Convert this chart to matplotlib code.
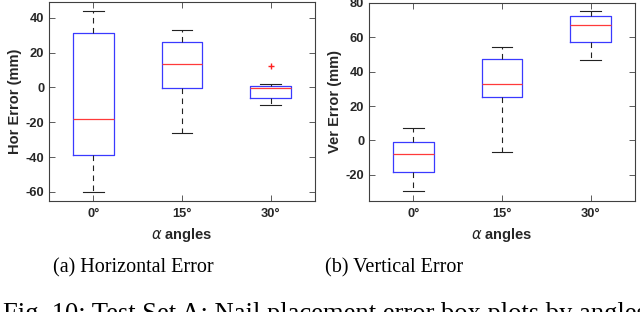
import matplotlib
matplotlib.use("Agg")
import matplotlib.pyplot as plt

plt.rcParams["axes.unicode_minus"] = False

categories = ["0°", "15°", "30°"]

# Horizontal error box stats
hor_whislo = [-60, -26, -10]
hor_q1 = [-39, -0.5, -6]
hor_med = [-18, 13.5, -0.5]
hor_q3 = [31, 26, 1]
hor_whishi = [44, 33, 2]
hor_fliers = [[], [], [12]]

# Vertical error box stats
ver_whislo = [-29.5, -7, 47]
ver_q1 = [-18.5, 25, 57]
ver_med = [-8, 33, 67]
ver_q3 = [-1, 47.5, 72]
ver_whishi = [7, 54, 75]
ver_fliers = [[], [], []]

hor_yticks = [-60, -40, -20, 0, 20, 40]
ver_yticks = [-20, 0, 20, 40, 60, 80]

W, H = 640, 312
fig = plt.figure(figsize=(6.4, 3.12), dpi=100)

axc = "#404040"
txtc = "#262626"

def make_stats(lo, q1, med, q3, hi, fl):
    return [dict(whislo=a, q1=b, med=c, q3=d, whishi=e, fliers=f)
            for a, b, c, d, e, f in zip(lo, q1, med, q3, hi, fl)]

def draw(rect, stats, ylim, yticks, ylabel):
    l, t, r, b = rect
    ax = fig.add_axes([l / W, 1 - b / H, (r - l) / W, (b - t) / H])
    ax.bxp(stats, positions=[1, 2, 3], widths=0.46, showfliers=True,
           boxprops=dict(color="#3a3aff", linewidth=0.9),
           medianprops=dict(color="#ff3a3a", linewidth=0.9),
           whiskerprops=dict(color="#222222", linewidth=0.8, linestyle=(0, (5, 4))),
           capprops=dict(color="#222222", linewidth=0.8),
           capwidths=0.23,
           flierprops=dict(marker="+", markeredgecolor="#ff2020", markersize=5,
                           markeredgewidth=1.0, linestyle="none"))
    ax.set_xlim(0.5, 3.5)
    ax.set_ylim(*ylim)
    ax.set_yticks(yticks)
    ax.set_xticks([1, 2, 3])
    ax.set_xticklabels(categories)
    for s in ax.spines.values():
        s.set_color(axc)
        s.set_linewidth(0.8)
    ax.tick_params(direction="in", top=True, right=True, length=4, width=0.6,
                   color=axc, labelsize=9.3, labelcolor=txtc)
    ax.tick_params(axis="y", pad=3.5)
    ax.tick_params(axis="x", pad=5.5)
    for lab in ax.get_xticklabels() + ax.get_yticklabels():
        lab.set_fontweight("bold")
        lab.set_fontfamily("Liberation Sans")
    ax.set_ylabel(ylabel, fontsize=10.5, fontweight="bold", family="Liberation Sans",
                  color=txtc, labelpad=2.5)
    ax.set_xlabel(r"$\alpha$ angles", fontsize=10.5, fontweight="bold",
                  family="Liberation Sans", color=txtc, labelpad=4)
    return ax

draw((49, 2, 315, 200.7),
     make_stats(hor_whislo, hor_q1, hor_med, hor_q3, hor_whishi, hor_fliers),
     (-65, 49), hor_yticks, "Hor Error (mm)")
draw((369, 2.7, 635, 200.7),
     make_stats(ver_whislo, ver_q1, ver_med, ver_q3, ver_whishi, ver_fliers),
     (-35, 80), ver_yticks, "Ver Error (mm)")

fig.text(133 / W, 1 - 272 / H, "(a) Horizontal Error", ha="center", va="baseline",
         fontsize=14.5, family="Liberation Serif")
fig.text(394 / W, 1 - 272 / H, "(b) Vertical Error", ha="center", va="baseline",
         fontsize=14.5, family="Liberation Serif")
fig.text(3 / W, 1 - 321 / H, "Fig. 10: Test Set A: Nail placement error box plots by angles.",
         ha="left", va="baseline", fontsize=19.2, family="Liberation Serif")

fig.savefig("out.png", dpi=100)
